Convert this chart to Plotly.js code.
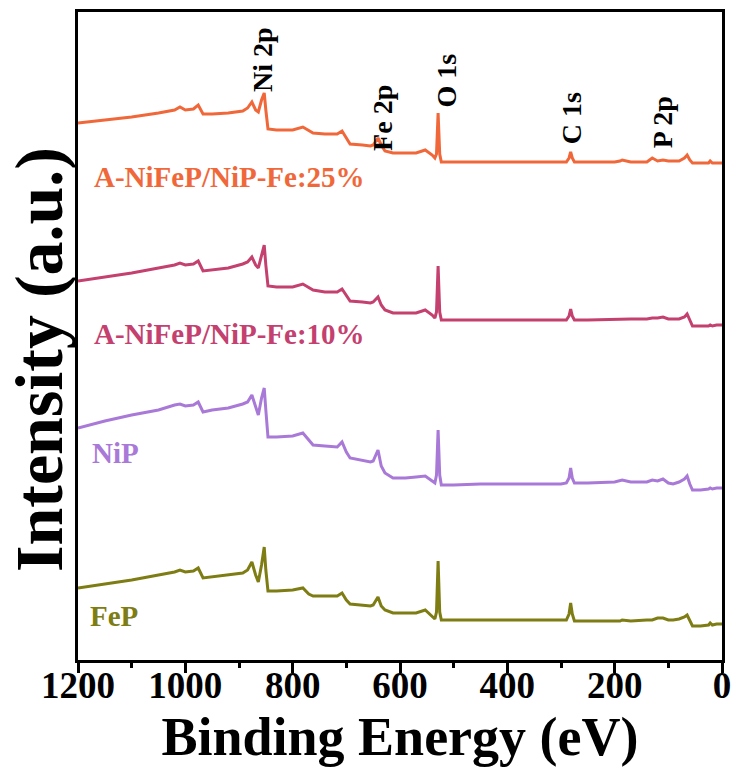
<!DOCTYPE html>
<html>
<head>
<meta charset="utf-8">
<script src="https://cdn.plot.ly/plotly-3.0.1.min.js"></script>
<style>html,body{margin:0;padding:0;background:#fff;}#chart{width:738px;height:776px;}</style>
</head>
<body>
<div id="chart"></div>
<script>
// Binding energy (eV), shared by all spectra
const energy = [1200,1150,1100,1050,1020,1010,1000,985,976,967,
  950,920,893,884,876,869,864,858,853,850,
  846,830,800,781,770,762,740,717,708,700,
  693,670,655,650,641,635,628,613,590,570,
  553,540,535,532,529,526,523,500,450,400,
  350,300,290,285,282,279,275,250,200,190,
  186,170,140,130,120,110,100,91,80,70,
  65,60,55,40,25,22,18,10,0];

// Stacked intensities (a.u.)
const fe25 = [537,540,543,547,550,553,550,551,555,546,
  546,547,549,552,558,550,548,560,567,550,
  531,530,530,533,529,527,526,526,529,522,
  516,515,514,515,522,515,509,507,507,507,
  510,505,502,506,547,506,498,498,498,498,
  498,498,498,502,508,502,498,498,498,499,
  500,498,498,502,499,500,499,499,499,502,
  505,500,497,497,497,499,497,497,497];
const fe10 = [379,383,387,392,395,397,395,396,399,389,
  390,392,396,398,403,395,392,405,415,395,
  374,373,373,376,372,370,368,368,371,364,
  359,358,357,358,363,355,350,347,347,347,
  350,345,342,348,394,348,340,340,340,340,
  340,340,340,344,351,344,340,340,341,341,
  341,341,341,342,342,343,341,341,341,343,
  346,340,334,334,334,335,334,335,335];
const nip = [232,239,245,250,255,256,254,255,258,248,
  250,252,256,258,265,252,245,262,272,250,
  223,223,224,227,220,215,214,213,218,208,
  202,200,198,199,210,194,187,182,182,183,
  184,179,177,185,230,185,175,175,176,176,
  176,176,177,182,192,182,177,177,178,179,
  180,178,178,180,179,181,177,176,178,181,
  184,176,170,170,171,172,171,172,172];
const fep = [72,76,80,85,88,90,88,89,92,82,
  83,85,87,90,98,85,78,95,113,90,
  69,69,70,72,66,64,64,64,67,60,
  56,55,54,55,63,54,50,47,47,47,
  50,44,41,48,99,48,40,40,40,40,
  40,40,40,46,57,46,39,39,39,39,
  40,39,40,40,42,42,40,40,41,43,
  45,39,34,34,35,37,35,36,36];

const seriesNames = ['A-NiFeP/NiP-Fe:25%','A-NiFeP/NiP-Fe:10%','NiP','FeP'];
const peakLabels = ['Ni 2p','Fe 2p','O 1s','C 1s','P 2p'];
const xTickVals = [1200,1000,800,600,400,200,0];

const colors = ['#F0683A','#C4406F','#A979D8','#7E7D14'];
const seriesData = [fe25, fe10, nip, fep];

const FONT = '"Liberation Serif","Times New Roman",Times,serif';

const traces = seriesData.map((y,i)=>({
  x: energy, y: y, type:'scatter', mode:'lines', name: seriesNames[i],
  line:{color:colors[i], width:3}, hoverinfo:'skip'
}));

const labelPos = [[0.022,0.746],[0.022,0.503],[0.019,0.320],[0.016,0.068]];
const peakPos = [[0.2873,0.926],[0.473,0.836],[0.572,0.895],[0.7655,0.836],[0.907,0.830]];

const annotations = [];
seriesNames.forEach((t,i)=>annotations.push({
  text:t, xref:'paper', yref:'paper', x:labelPos[i][0], y:labelPos[i][1],
  xanchor:'left', yanchor:'middle', showarrow:false,
  font:{family:FONT, size:29, color:colors[i], weight:'bold'}
}));
peakLabels.forEach((t,i)=>annotations.push({
  text:t, xref:'paper', yref:'paper', x:peakPos[i][0], y:peakPos[i][1],
  xanchor:'center', yanchor:'middle', showarrow:false, textangle:-90,
  font:{family:FONT, size:28, color:'#000', weight:'bold'}
}));
// y-axis title (placed as annotation to match the reference's vertical offset)
annotations.push({
  text:'Intensity (a.u.)', xref:'paper', yref:'paper', x:-0.0605, y:0.463,
  xanchor:'center', yanchor:'middle', showarrow:false, textangle:-90,
  font:{family:FONT, size:68, color:'#000', weight:'bold'}
});

const layout = {
  width:738, height:776,
  margin:{l:78, r:16, t:12, b:116},
  paper_bgcolor:'#fff', plot_bgcolor:'#fff',
  showlegend:false,
  font:{family:FONT, color:'#000'},
  // main axis: frame line and tick marks
  xaxis:{
    range:[1200,0], tickvals:xTickVals, showticklabels:false,
    ticks:'outside', ticklen:10, tickwidth:3, tickcolor:'#000',
    minor:{ticks:'outside', ticklen:5, tickwidth:3, tickcolor:'#000', dtick:100, tick0:0, showgrid:false},
    showline:true, linewidth:3, linecolor:'#000', mirror:true,
    showgrid:false, zeroline:false
  },
  // overlay axis: tick labels and title, placed closer to the axis line
  xaxis2:{
    overlaying:'x', anchor:'y', side:'bottom',
    range:[1200,0], tickvals:xTickVals, ticktext:xTickVals.map(String),
    ticks:'', showline:false, showgrid:false, zeroline:false,
    tickfont:{family:FONT, size:37, color:'#000', weight:'bold'},
    title:{text:'Binding Energy (eV)', font:{family:FONT, size:54, color:'#000', weight:'bold'}, standoff:12}
  },
  yaxis:{
    range:[0,648], showticklabels:false, ticks:'',
    showline:true, linewidth:3, linecolor:'#000', mirror:true,
    showgrid:false, zeroline:false
  },
  annotations: annotations
};

// an invisible helper trace keeps the overlay axis drawn
traces.push({x:[xTickVals[0]], y:[null], xaxis:'x2', yaxis:'y', type:'scatter', mode:'lines', showlegend:false, hoverinfo:'skip'});

Plotly.newPlot('chart', traces, layout, {displayModeBar:false, staticPlot:true});
</script>
</body>
</html>
